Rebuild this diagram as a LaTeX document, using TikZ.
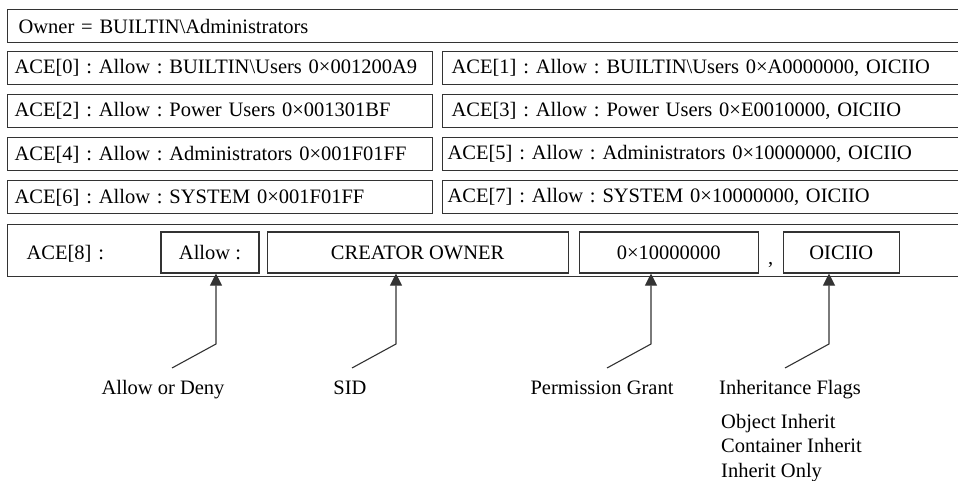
\documentclass[tikz,border=0pt]{standalone}
\usepackage{fontspec}
\setmainfont{Liberation Serif}
\usetikzlibrary{arrows.meta,positioning,calc}
\frenchspacing

\begin{document}
\begin{tikzpicture}[
    x=1pt, y=-1pt,
    font=\fontsize{20.5}{24.4}\selectfont,
    box/.style={draw=black!80, line width=1.1pt, minimum height=33pt, inner ysep=0pt, inner xsep=7pt, align=left},
    half/.style={box, text width=411pt},
    halfr/.style={box, text width=520pt},
    full/.style={box, text width=940pt, inner xsep=11pt},
    field/.style={draw=black!80, line width=1.1pt, minimum height=41pt, inner sep=0pt},
    arr/.style={-{Triangle[width=12pt, length=12pt]}, line width=1.1pt, draw=black!80},
    lbl/.style={inner sep=0pt},
]
\useasboundingbox (0,0) rectangle (958,481);
\clip (0,0) rectangle (958,481);

% Owner and ACE rows
\node[full, anchor=north west] (owner) at (7,9) {Owner = BUILTIN\textbackslash Administrators};
\node[half, below=8pt of owner.south west, anchor=north west] (ace0) {ACE[0] : Allow : BUILTIN\textbackslash Users 0×001200A9};
\node[halfr, right=9pt of ace0, inner xsep=9pt] (ace1) {ACE[1] : Allow : BUILTIN\textbackslash Users 0×A0000000, OICIIO};
\node[half, below=9pt of ace0.south west, anchor=north west] (ace2) {ACE[2] : Allow : Power Users 0×001301BF};
\node[halfr, right=9pt of ace2, inner xsep=9pt] (ace3) {ACE[3] : Allow : Power Users 0×E0010000, OICIIO};
\node[half, below=9pt of ace2.south west, anchor=north west] (ace4) {ACE[4] : Allow : Administrators 0×001F01FF};
\node[halfr, right=9pt of ace4, inner xsep=5pt] (ace5) {ACE[5] : Allow : Administrators 0×10000000, OICIIO};
\node[half, below=9pt of ace4.south west, anchor=north west] (ace6) {ACE[6] : Allow : SYSTEM 0×001F01FF};
\node[halfr, right=9pt of ace6, inner xsep=5pt] (ace7) {ACE[7] : Allow : SYSTEM 0×10000000, OICIIO};

% ACE[8] split into its fields
\node[box, text width=930pt, inner xsep=19pt, minimum height=52pt, below=9pt of ace6.south west, anchor=north west] (ace8) {\raisebox{-9pt}[0pt][0pt]{ACE[8] :}};
\node[field, minimum width=98pt] (allow) at (210,252.5) {Allow :};
\node[field, minimum width=301pt, right=7pt of allow] (creator) {CREATOR OWNER};
\node[field, minimum width=179pt, right=10pt of creator] (perm) {0×10000000};
\node[field, minimum width=116pt, right=24pt of perm] (flags) {OICIIO};
\node[lbl, anchor=base, yshift=-5pt] (comma) at ($(perm.base east)!.5!(flags.base west)$) {,};

% Leader lines
\coordinate (allowbend) at (216,344);
\coordinate (allowfoot) at (172,368);
\coordinate (sidbend) at (396,344);
\coordinate (sidfoot) at (352,368);
\coordinate (permbend) at (651,344);
\coordinate (permfoot) at (607,368);
\coordinate (flagsbend) at (829,344);
\coordinate (flagsfoot) at (785,368);
\draw[arr] (allowfoot) -- (allowbend) -- (allowbend |- allow.south);
\draw[arr] (sidfoot) -- (sidbend) -- (sidbend |- creator.south);
\draw[arr] (permfoot) -- (permbend) -- (permbend |- perm.south);
\draw[arr] (flagsfoot) -- (flagsbend) -- (flagsbend |- flags.south);

% Labels
\node[lbl, anchor=base] (denylbl) at (163,394) {Allow or Deny};
\node[lbl, anchor=base] (sidlbl) at (350,394) {SID};
\node[lbl, anchor=base] (permlbl) at (602,394) {Permission Grant};
\node[lbl, anchor=base west] (flagslbl) at (719,394) {Inheritance Flags};
\node[lbl, anchor=north west, align=left] (flaglist) at (721,414) {Object Inherit\\Container Inherit\\Inherit Only};
\end{tikzpicture}
\end{document}
